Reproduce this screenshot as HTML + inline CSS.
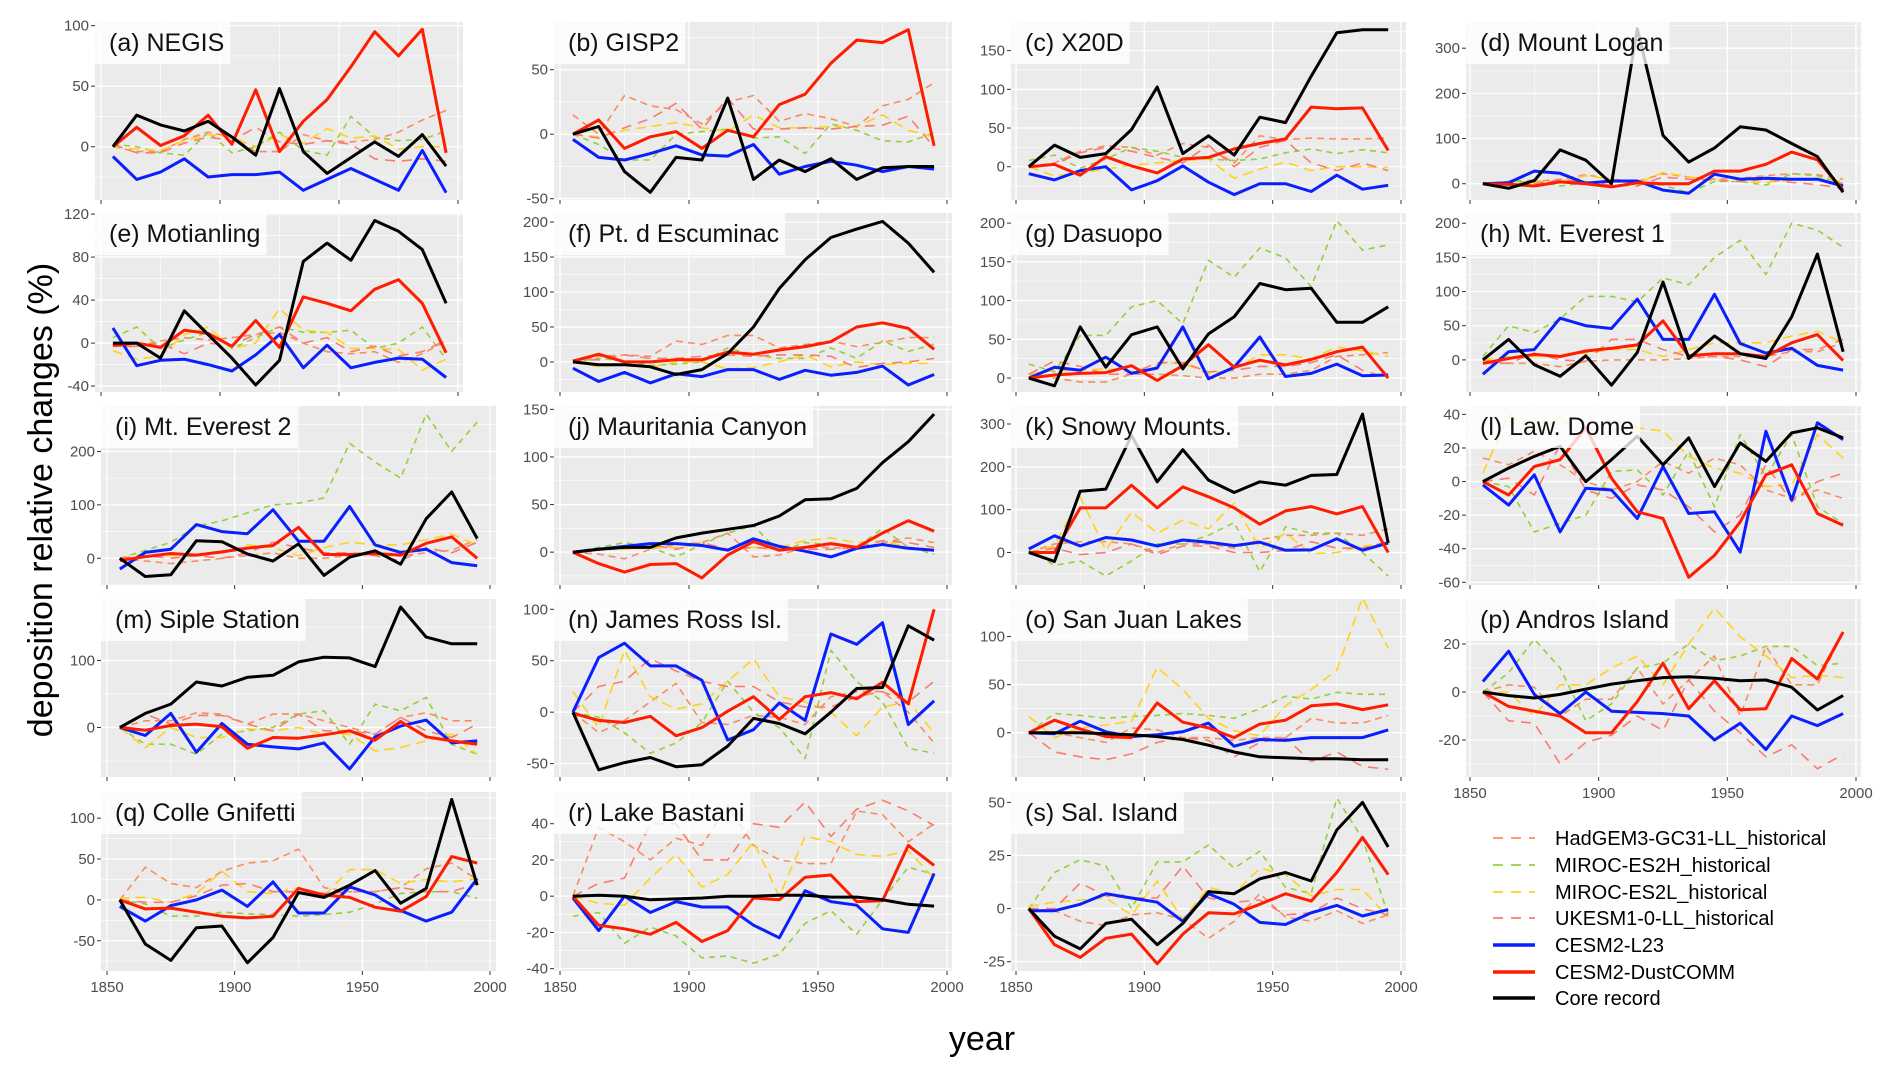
<!DOCTYPE html>
<html><head><meta charset="utf-8"><style>
html,body{margin:0;padding:0;background:#fff;}
svg{display:block;font-family:"Liberation Sans",Arial,sans-serif;}
</style></head><body>
<svg id="fig" width="1892" height="1070" viewBox="0 0 1892 1070" xmlns="http://www.w3.org/2000/svg">
<rect x="0" y="0" width="1892" height="1070" fill="#fff"/>
<text x="0" y="0" transform="translate(52,500) rotate(-90)" text-anchor="middle" font-size="34" fill="#000">deposition relative changes (%)</text>
<text x="982" y="1050" text-anchor="middle" font-size="34" fill="#000">year</text>
</svg>
<script>
// ---- data ----
const years = [1855,1865,1875,1885,1895,1905,1915,1925,1935,1945,1955,1965,1975,1985,1995];
const panelTitles = ["(a) NEGIS","(b) GISP2","(c) X20D","(d) Mount Logan","(e) Motianling","(f) Pt. d Escuminac","(g) Dasuopo","(h) Mt. Everest 1","(i) Mt. Everest 2","(j) Mauritania Canyon","(k) Snowy Mounts.","(l) Law. Dome","(m) Siple Station","(n) James Ross Isl.","(o) San Juan Lakes","(p) Andros Island","(q) Colle Gnifetti","(r) Lake Bastani","(s) Sal. Island"];
const yTicks = [[0,50,100],[-50,0,50],[0,50,100,150],[0,100,200,300],[-40,0,40,80,120],[0,50,100,150,200],[0,50,100,150,200],[0,50,100,150,200],[0,100,200],[0,50,100,150],[0,100,200,300],[-60,-40,-20,0,20,40],[0,100],[-50,0,50,100],[0,50,100],[-20,0,20],[-50,0,50,100],[-40,-20,0,20,40],[-25,0,25,50]];
const yRange = [[-44,103],[-51,87],[-43,187],[-36,358],[-45.5,121],[-43,213],[-18,213],[-47,215],[-50,285],[-34.5,153.5],[-76,342],[-61.6,45],[-74,192],[-63,110],[-46,139],[-35.4,38.75],[-87,132],[-41.3,57.5],[-29.4,54.9]];
const xTickLabels = [1850,1900,1950,2000];

const coreRecord = [
[0,26,18,13,21,8,-7,48,-4,-22,-9,4,-8,10,-16],
[0,6,-29,-45,-18,-20,28,-35,-20,-29,-19,-35,-26,-25,-25],
[0,28,12,17,48,103,17,40,15,64,57,117,173,177,177],
[0,-10,7,75,52,0,343,107,48,79,126,119,89,60,-19],
[0,0,-14,30,8,-14,-39,-16,76,93,77,114,104,87,37],
[0,-4,-4,-7,-18,-11,12,50,105,146,178,190,201,170,128],
[0,-10,66,14,56,66,12,57,79,122,114,116,72,72,92],
[0,30,-7,-24,6,-37,11,114,2,35,9,2,63,155,12],
[0,-34,-31,33,31,8,-5,27,-32,2,14,-11,74,124,37],
[0,3,5,5,15,20,24,28,38,55,56,67,94,116,145],
[0,-21,143,148,273,165,240,169,140,165,157,180,182,323,22],
[0,8,15,21,0,13,27,10,26,-3,23,12,29,32,26],
[0,21,35,68,62,75,78,98,105,104,91,180,135,125,125],
[0,-56,-49,-44,-53,-51,-33,-6,-11,-21,0,23,24,84,70],
[0,0,0,-1,-2,-4,-7,-13,-20,-25,-26,-27,-27,-28,-28],
[0,-1.5,-2.5,-1,1.2,3.3,4.7,6,6.4,5.7,4.7,5,2,-7.5,-1.5],
[0,-54,-74,-34,-32,-77,-46,9,3,18,36,-4,14,123,18],
[0,0.5,0,-2,-1.5,-1,0,0,0.5,0.5,-0.5,-0.5,-2,-4.5,-5.5],
[0,-13,-19,-7,-5,-17,-7,8,7,14,17,13,37,50,29]];

const cesmDustcomm = [
[0,16,1,9,26,2,47,-4,21,39,66,95,75,97,-5],
[0,11,-11,-2,2,-11,3,-2,23,31,55,73,71,81,-9],
[0,3,-11,13,1,-8,10,12,23,30,36,77,75,76,21],
[0,-1,-5,4,0,-7,2,0,0,28,28,43,70,53,-14],
[-2,0,-4,12,9,-3,21,-4,43,37,30,50,59,37,-9],
[1,11,0,0,3,3,14,11,17,22,29,50,56,48,18],
[0,4,6,7,16,-3,16,43,14,23,17,24,34,40,0],
[-5,2,8,5,13,17,22,57,6,9,9,5,25,37,-1],
[-4,3,9,6,12,19,24,58,7,7,9,6,28,40,0],
[0,-12,-21,-13,-12,-27,-3,11,2,5,9,5,20,33,22],
[0,0,104,104,157,104,153,130,104,66,97,107,90,107,0],
[0,-8,9,13,32,2,-18,-22,-57,-44,-24,4,10,-19,-26],
[0,-4,3,5,1,-31,-15,-16,-11,-5,-19,9,-14,-20,-25],
[-1,-8,-10,-4,-23,-15,1,15,-7,15,19,13,29,8,100],
[0,13,4,-4,-5,31,11,5,-5,9,13,28,30,24,29],
[0,-6,-8,-10,-17,-17,-4,12,-7,4.7,-7.4,-7,14,5.4,25],
[0,-11,-10,-15,-20,-22,-20,14,6,3,-9,-14,4,53,45],
[0,-16,-18,-21,-14.5,-25,-19,-1,-2,10.5,11.7,-3,-2.5,28,17],
[0,-17,-23,-14,-12,-26,-12,-2,-2.5,2,7,3.5,17,33.5,16]];

const cesmL23 = [
[-8,-27,-21,-10,-25,-23,-23,-21,-36,-27,-18,-27,-36,-3,-38],
[-4,-18,-20,-15,-9,-16,-17,-8,-31,-25,-21,-24,-29,-25,-27],
[-9,-17,-5,0,-30,-18,1,-20,-36,-22,-22,-32,-11,-29,-24],
[0,2,28,23,1,6,6,-14,-21,21,10,12,10,10,-5],
[14,-21,-16,-15,-20,-26,-11,8,-23,-2,-23,-18,-14,-15,-32],
[-9,-28,-15,-30,-17,-21,-11,-11,-25,-12,-19,-15,-6,-33,-18],
[0,14,10,27,6,13,66,-1,14,53,2,6,18,3,4],
[-21,12,15,61,50,46,89,30,30,96,24,10,17,-8,-15],
[-20,11,17,63,50,46,91,32,32,97,25,11,17,-8,-14],
[0,3,6,9,9,7,2,14,6,1,-5,4,8,4,2],
[8,39,15,35,29,15,29,24,16,24,5,6,32,5,22],
[-2,-14,4,-30,-4,-5,-22,9,-19,-18,-42,30,-11,35,25],
[0,-12,21,-37,6,-25,-29,-32,-23,-62,-14,2,11,-23,-20],
[0,53,67,45,45,31,-27,-17,9,-8,76,66,87,-12,11],
[0,-1,12,1,-4,-2,1,10,-14,-7,-8,-5,-5,-5,3],
[4.4,17,-1,-9,0,-8,-8.5,-9,-10,-20,-13,-24,-10,-14,-9],
[-8,-26,-7,0,12,-8,22,-16,-16,16,6,-13,-26,-15,26],
[-1,-19,0,-9,-3,-6,-6,-16,-23,3,-3,-5,-18,-20,12.5],
[-1,-1,2,7,5,3,-6,7,2,-6.5,-7.5,-2,1.5,-3.5,-0.5]];

const hadgem = [
[0,-4,-4,6,12,8,-4,-4,10,5,4,6,12,22,30],
[15,0,30,22,19,8,25,30,10,16,12,6,22,27,40],
[0,5,20,27,25,15,30,25,5,40,35,37,36,36,37],
[0,2,5,10,20,10,5,22,15,10,12,18,22,20,10],
[-3,-3,2,5,3,5,8,10,0,-8,-10,-8,-18,-10,2],
[0,8,10,8,30,25,38,38,20,25,30,22,28,35,35],
[5,0,-5,-5,5,5,3,0,0,5,5,10,28,30,33],
[0,-5,-5,-10,-2,0,0,0,2,5,5,5,12,12,25],
[0,-5,-10,-5,0,5,10,0,0,5,10,5,10,15,35],
[0,-2,-7,3,8,10,20,-5,-3,5,5,3,10,15,10],
[0,20,25,25,20,0,20,20,10,30,40,40,45,40,55],
[14,10,18,10,0,-5,0,12,5,14,10,-5,-10,-5,-10],
[0,10,10,22,20,5,20,20,10,0,-10,15,22,10,10],
[0,-20,-8,10,28,-10,-12,-3,-5,-12,15,20,20,0,-30],
[0,0,-5,-10,5,3,-5,-5,-8,-5,-5,15,10,10,18],
[0,3,2,-10,-3,-3,10,-5,5,15,-10,19,3,3,25],
[0,40,20,15,35,45,48,62,15,10,10,15,38,45,25],
[0,38,30,20,32,28,50,28,20,18,18,47,45,30,40],
[0,-1,-6,-8,-3,-2,-5,-14,-6,7,-4,-6,-1,-7,-3]];

const mirocES2H = [
[2,0,-5,-7,12,-5,0,12,-3,-7,25,8,5,6,13],
[0,-8,-20,-20,0,2,4,-3,-2,-15,8,3,-5,-6,1],
[8,15,-2,10,25,20,12,10,8,10,18,23,17,22,18],
[0,5,8,-5,2,5,0,-3,-20,5,5,-3,22,18,0],
[5,15,-5,3,10,-5,5,15,10,10,12,-5,0,15,-15],
[0,5,2,-5,-3,0,20,10,5,5,20,5,30,15,25],
[18,8,55,55,92,100,70,152,130,168,155,118,203,165,172],
[5,50,40,60,93,93,85,120,110,150,175,125,200,190,165],
[0,15,30,60,70,85,100,103,113,215,180,150,270,200,255],
[0,5,10,5,-5,8,20,28,0,10,8,5,25,5,-2],
[5,-30,-20,-55,-20,20,20,40,70,-45,60,45,45,0,-55],
[0,-3,-30,-25,-20,6,7,-8,18,-15,28,3,28,-15,-25],
[0,-25,-25,-40,-10,-5,0,20,25,-25,35,25,45,-25,-40],
[0,-5,-20,-40,-30,-10,30,0,-15,-45,60,30,10,-35,-40],
[0,20,18,15,17,18,20,18,15,25,38,35,42,40,40],
[0,8,22,10,-12,-5,10,12,20,13,15,19,19,11,12],
[0,-5,-20,-20,-15,-17,-18,-20,-18,-15,-5,8,10,10,2],
[-11,-9,-26,-17,-22,-34,-33,-37,-32,-15,-8,-21,-2,16,12],
[0,17,23,20,0,22,22,30,19,27,10,7,52,33,-3]];

const mirocES2L = [
[0,-2,-3,5,10,8,0,10,3,15,7,9,-2,0,0],
[0,-2,3,6,9,5,2,15,5,5,6,6,15,3,-2],
[0,-12,-8,-3,2,5,8,10,-15,-3,6,-5,0,0,-1],
[2,0,3,5,18,10,0,25,15,8,5,3,8,12,5],
[-7,-15,-12,8,15,-5,0,32,12,10,-5,-5,-6,-25,-15],
[0,-7,-3,-8,0,0,-10,-8,0,10,-7,0,-4,-2,-2],
[5,10,10,12,8,18,20,5,12,30,30,25,40,35,28],
[0,5,5,8,10,15,15,5,15,25,25,25,35,42,25],
[0,8,5,5,10,25,20,5,20,30,25,25,35,45,25],
[0,3,3,5,5,8,3,5,5,12,15,10,12,5,3],
[0,15,130,5,95,45,75,55,115,10,45,-3,0,15,20],
[5,40,30,38,25,30,32,30,15,8,5,-3,-2,28,14],
[0,-30,0,-15,-15,-2,-5,0,-10,-10,-35,-30,-20,-10,-40],
[20,-15,60,15,3,8,30,52,15,10,0,-23,5,10,-20],
[17,-5,5,8,12,68,45,15,2,-3,28,45,65,140,88],
[0,0,-10,3,3,10,15,3,20,35,23,15,6,7,6],
[2,3,-3,8,35,10,8,15,5,37,37,20,25,22,26],
[0,-4,-5,10,23,5,12,30,0,33,30,23,22,25,10],
[1,3,4,5,-3,13,-5,10,7,19,16,6,9,9,-4]];

const ukesm = [
[2,-5,-5,3,8,5,16,4,2,5,2,-10,-12,-10,-12],
[0,-3,5,12,24,4,28,4,4,5,4,6,7,14,-10],
[0,3,18,25,20,12,5,28,0,25,34,5,-5,5,-5],
[0,-3,0,8,5,-3,-5,15,10,8,5,10,3,-2,-10],
[-3,-3,0,-10,0,-2,8,15,0,5,-8,-3,-12,-8,3],
[3,3,10,5,5,8,10,8,10,10,8,-8,-2,0,5],
[5,22,15,5,5,20,20,8,10,15,15,20,30,10,0],
[-5,-5,10,0,-2,30,30,15,5,5,0,-10,15,15,30],
[0,5,0,5,0,10,30,20,10,10,5,-5,20,10,30],
[0,3,5,8,3,10,3,5,3,3,3,5,12,10,5],
[0,10,-5,0,20,-5,15,15,0,0,5,25,10,10,25],
[0,2,-8,22,-5,-10,-2,-5,-15,-30,-20,10,-12,0,5],
[0,20,5,18,18,5,-5,20,-5,-5,-10,15,-5,-15,5],
[0,25,30,52,40,30,25,25,10,5,5,15,20,10,30],
[0,-20,-25,-28,-22,-10,-5,-8,-25,-10,-5,-30,-20,-35,-38],
[0,-12,-13,-30,-21,-18,-10,-16,5,-8,-17,-27,-22,-32,-26],
[0,-3,-3,5,18,20,10,10,8,10,10,15,10,10,20],
[0,7,10,40,40,20,20,40,38,52,33,48,53,47,39],
[0,0,12,6,5,5,20,5,3,4,-3,-2,5,0,-3]];

const legendLabels = ["HadGEM3-GC31-LL_historical","MIROC-ES2H_historical","MIROC-ES2L_historical","UKESM1-0-LL_historical","CESM2-L23","CESM2-DustCOMM","Core record"];

// ---- layout (pixel geometry, not data) ----
const rowTop = [22,213,406,599,792], rowBot = [200,392,585,777,971];
function colGeom(row,col){
  if(col===0){ return row<2 ? {l:95,r:463,x0:101,x1:458} : {l:101,r:496,x0:107,x1:490}; }
  if(col===1) return {l:554,r:952,x0:560,x1:947};
  if(col===2) return {l:1011,r:1406,x0:1016,x1:1401};
  return {l:1466,r:1861,x0:1470,x1:1856};
}
const seriesStyle = [
 {data:hadgem, color:"#f98d5e", w:1.6, dash:"7,5", name:"hadgem-line"},
 {data:mirocES2H, color:"#94d03a", w:1.6, dash:"6,5", name:"miroc-es2h-line"},
 {data:mirocES2L, color:"#ffd21a", w:1.6, dash:"10,6", name:"miroc-es2l-line"},
 {data:ukesm, color:"#fb7b72", w:1.6, dash:"10,7", name:"ukesm-line"},
 {data:cesmL23, color:"#0a1fff", w:3, dash:null, name:"cesm2-l23-line"},
 {data:cesmDustcomm, color:"#ff1c00", w:3, dash:null, name:"cesm2-dustcomm-line"},
 {data:coreRecord, color:"#000000", w:3, dash:null, name:"core-record-line"}];

const NS="http://www.w3.org/2000/svg";
const svg=document.getElementById('fig');
function mk(tag,attrs,parent){const e=document.createElementNS(NS,tag);for(const k in attrs)e.setAttribute(k,attrs[k]);(parent||svg).appendChild(e);return e;}

for(let p=0;p<19;p++){
  const row=Math.floor(p/4), col=p%4;
  const g=colGeom(row,col); const t=rowTop[row], b=rowBot[row];
  const [ylo,yhi]=yRange[p];
  const xs=v=>g.x0+(v-1850)/150*(g.x1-g.x0);
  const ys=v=>b-(v-ylo)/(yhi-ylo)*(b-t);
  const grp=mk('g',{});
  
  
  const bg=mk('rect',{x:g.l,y:t,width:g.r-g.l,height:b-t,fill:'#ebebeb'},grp);
  
  
  // grid
  const tk=yTicks[p]; const step=tk[1]-tk[0];
  for(let v=tk[0]-step*3;v<=tk[tk.length-1]+step*3;v+=step/2){
    if(v<ylo||v>yhi) continue;
    const major=tk.includes(v);
    mk('line',{x1:g.l,x2:g.r,y1:ys(v),y2:ys(v),stroke:'#fff','stroke-width':major?1.3:0.6},grp);
  }
  for(let v=1850;v<=2000;v+=25){
    const major=v%50===0;
    mk('line',{x1:xs(v),x2:xs(v),y1:t,y2:b,stroke:'#fff','stroke-width':major?1.3:0.6},grp);
  }
  // y ticks
  tk.forEach(v=>{
    mk('line',{x1:g.l-4,x2:g.l,y1:ys(v),y2:ys(v),stroke:'#333','stroke-width':1},grp);
    const tx=mk('text',{x:g.l-6,y:ys(v)+5,'text-anchor':'end','font-size':15,fill:'#4d4d4d'},grp);
    tx.textContent=v;
    
    
  });
  // x ticks
  const showX = row===4 || p===15;
  xTickLabels.forEach(v=>{
    mk('line',{x1:xs(v),x2:xs(v),y1:b,y2:b+4,stroke:'#333','stroke-width':1},grp);
    if(showX){
      const tx=mk('text',{x:xs(v),y:b+21,'text-anchor':'middle','font-size':15,fill:'#4d4d4d'},grp);
      tx.textContent=v;
      
      
    }
  });
  // series
  seriesStyle.forEach(s=>{
    const vals=s.data[p];
    const pts=years.map((yr,i)=>xs(yr).toFixed(1)+','+ys(vals[i]).toFixed(1)).join(' ');
    const pl=mk('polyline',{points:pts,fill:'none',stroke:s.color,'stroke-width':s.w,'stroke-linejoin':'round'},grp);
    if(s.dash) pl.setAttribute('stroke-dasharray',s.dash);
    
    
  });
  // title box
  const box=mk('rect',{x:g.l,y:t,width:100,height:42,fill:'rgba(255,255,255,0.78)'},grp);
  
  
  const tt=mk('text',{x:g.l+14,y:t+29,'font-size':25,fill:'#111'},grp);
  tt.textContent=panelTitles[p];
  
  
  box.setAttribute('width',tt.getComputedTextLength()+20);
}

// legend
const legY=[838,865,892,918,945,972,998];
seriesStyle.forEach((s,i)=>{
  const lg=mk('g',{});
  
  
  const ln=mk('line',{x1:1493,x2:1535,y1:legY[i],y2:legY[i],stroke:s.color,'stroke-width':s.dash?1.8:3.5},lg);
  if(s.dash) ln.setAttribute('stroke-dasharray','10,8');
  const tx=mk('text',{x:1555,y:legY[i]+7,'font-size':20,fill:'#000'},lg);
  tx.textContent=legendLabels[i];
});
</script>
</body></html>
